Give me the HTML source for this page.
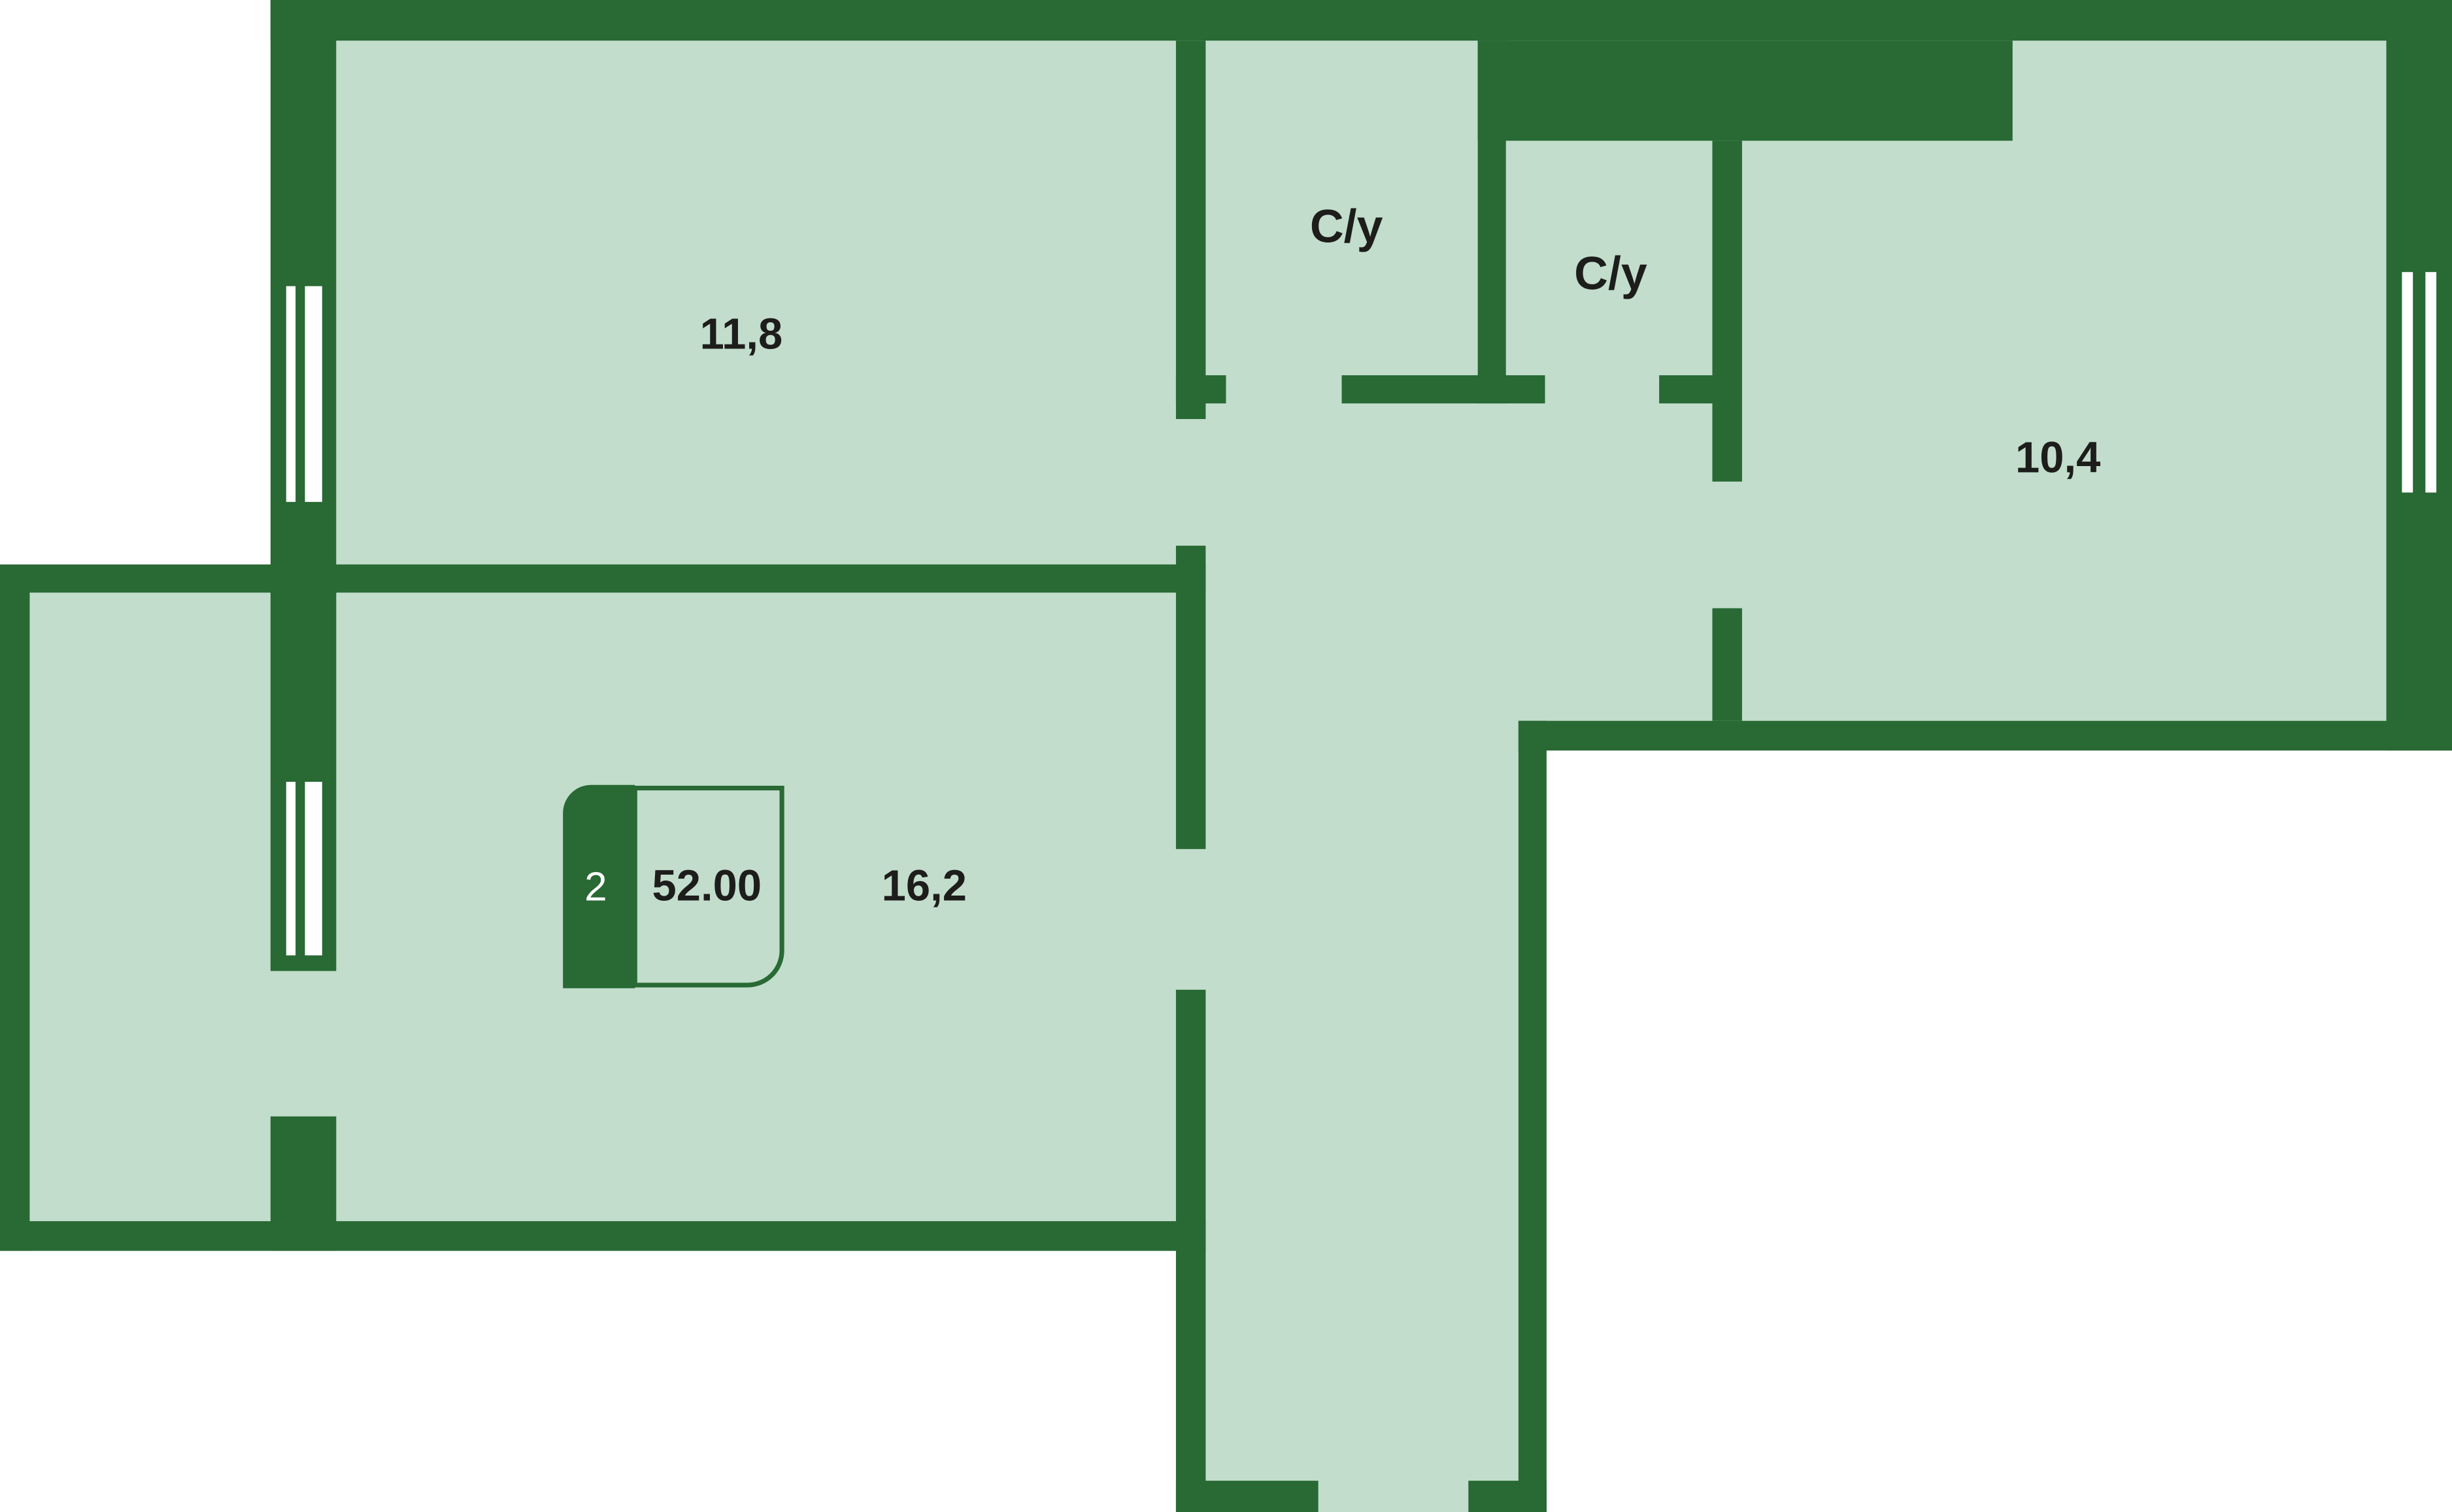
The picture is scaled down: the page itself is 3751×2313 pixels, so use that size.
<!DOCTYPE html>
<html><head><meta charset="utf-8"><style>
html,body{margin:0;padding:0;background:#fff;}
svg{display:block;}
text{font-family:"Liberation Sans","DejaVu Sans",sans-serif;fill:#1d1d1b;}
</style></head><body>
<svg width="3751" height="2313" viewBox="0 0 1568 967" preserveAspectRatio="none" xmlns="http://www.w3.org/2000/svg">
<g fill="#c2ddcb">
<rect x="215" y="26" width="1311" height="435"/>
<rect x="19" y="379" width="752" height="402"/>
<rect x="752" y="300" width="219" height="667"/>
</g>
<g fill="#286934">
<rect x="173" y="0" width="1395" height="26"/>
<rect x="173" y="0" width="42" height="380"/>
<rect x="1526" y="0" width="42" height="480"/>
<rect x="971" y="461" width="597" height="19"/>
<rect x="971" y="461" width="18" height="506"/>
<rect x="752" y="947" width="91" height="20"/>
<rect x="939" y="947" width="50" height="20"/>
<rect x="752" y="633" width="19" height="334"/>
<rect x="0" y="361" width="771" height="18"/>
<rect x="0" y="361" width="19" height="439"/>
<rect x="0" y="781" width="771" height="19"/>
<rect x="173" y="361" width="42" height="260"/>
<rect x="173" y="714" width="42" height="86"/>
<rect x="752" y="349" width="19" height="194"/>
<rect x="752" y="26" width="19" height="242"/>
<rect x="752" y="240" width="32" height="18"/>
<rect x="858" y="240" width="130" height="18"/>
<rect x="945" y="26" width="18" height="232"/>
<rect x="945" y="26" width="342" height="64"/>
<rect x="1095" y="90" width="19" height="218"/>
<rect x="1095" y="389" width="19" height="72"/>
<rect x="1061" y="240" width="34" height="18"/>
</g>
<g fill="#fff">
<rect x="183" y="183" width="6" height="138"/><rect x="195" y="183" width="11" height="138"/>
<rect x="183" y="500" width="6" height="111"/><rect x="195" y="500" width="11" height="111"/>
<rect x="1536" y="174" width="7" height="141"/><rect x="1551" y="174" width="7" height="141"/>
</g>
<path d="M406 504 H500 V608 A22 22 0 0 1 478 630 H406 Z" fill="none" stroke="#286934" stroke-width="3"/>
<path d="M360 520 A18 18 0 0 1 378 502 H406 V632 H360 Z" fill="#286934"/>
<text x="381" y="576" font-size="26" text-anchor="middle" style="fill:#fff">2</text>
<text x="452" y="576" font-size="28" font-weight="bold" text-anchor="middle">52.00</text>
<text x="591" y="576" font-size="28" font-weight="bold" text-anchor="middle">16,2</text>
<text x="474" y="223" font-size="28" font-weight="bold" text-anchor="middle">11,8</text>
<text x="861" y="155" font-size="30" font-weight="bold" text-anchor="middle">С/у</text>
<text x="1030" y="185" font-size="30" font-weight="bold" text-anchor="middle">С/у</text>
<text x="1316" y="302" font-size="28" font-weight="bold" text-anchor="middle">10,4</text>
</svg>
</body></html>
